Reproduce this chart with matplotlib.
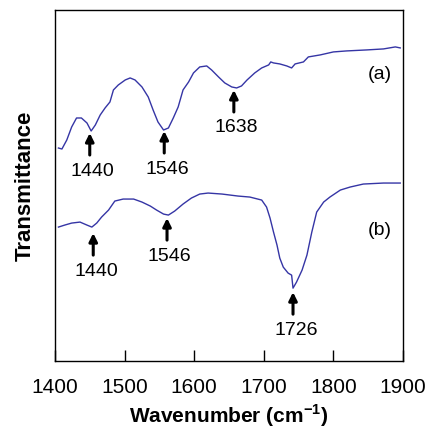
import matplotlib
matplotlib.use("Agg")
from matplotlib import pyplot as plt

plt.rcParams['font.family'] = ['Liberation Sans', 'DejaVu Sans']

# widmo (a)
wn_a = [1405, 1410, 1417, 1424, 1431, 1438, 1446, 1452, 1458, 1465, 1472, 1479,
        1484, 1491, 1501, 1508, 1515, 1525, 1534, 1541, 1548, 1556, 1563, 1570,
        1577, 1584, 1592, 1599, 1608, 1618, 1625, 1635, 1644, 1654, 1661, 1668,
        1676, 1687, 1697, 1707, 1710, 1714, 1723, 1733, 1740, 1745, 1757, 1764,
        1781, 1800, 1819, 1848, 1872, 1889, 1896]
tr_a = [213, 212, 221, 234, 243, 243, 238, 230, 236, 246, 253, 259,
        271, 276, 281, 283, 281, 274, 264, 251, 239, 231, 233, 243,
        254, 271, 279, 288, 294, 295, 291, 284, 278, 274, 273, 275,
        281, 288, 293, 296, 299, 298, 297, 295, 293, 297, 299, 304,
        306, 309, 310, 311, 312, 314, 313]

# widmo (b)
wn_b = [1405, 1414, 1424, 1436, 1446, 1453, 1460, 1467, 1477, 1486, 1498, 1513,
        1525, 1537, 1546, 1556, 1563, 1572, 1584, 1596, 1608, 1620, 1640, 1663,
        1680, 1697, 1704, 1709, 1714, 1719, 1723, 1728, 1735, 1740, 1742, 1747,
        1755, 1762, 1769, 1776, 1786, 1795, 1810, 1824, 1843, 1872, 1896]
tr_b = [134, 136, 138, 139, 136, 134, 138, 144, 151, 160, 162, 162,
        159, 155, 151, 147, 146, 150, 157, 163, 167, 168, 167, 165,
        164, 161, 154, 143, 129, 116, 103, 94, 88, 86, 73, 79,
        91, 106, 129, 149, 159, 164, 171, 174, 177, 178, 178]

# piki: etykieta, pozycja strzalki, wysokosc grotu
peak_labels = ["1440", "1546", "1638", "1440", "1546", "1726"]
peak_x = [1450, 1557, 1657, 1455, 1561, 1742]
peak_tip = [228, 230, 271, 128, 143, 69]

fig = plt.figure(figsize=(4.26, 4.30), dpi=100)
ax = fig.add_axes([0.129, 0.160, 0.817, 0.817])

line_color = '#3535a5'
ax.plot(wn_a, tr_a, color=line_color, lw=1.0)
ax.plot(wn_b, tr_b, color=line_color, lw=1.0)

for lab, x, tip in zip(peak_labels, peak_x, peak_tip):
    ax.annotate("", xy=(x, tip), xytext=(x, tip - 22),
                arrowprops=dict(arrowstyle='-|>', lw=2.2, color='black',
                                mutation_scale=12, shrinkA=0, shrinkB=0))
    ax.text(x + 4, tip - 38, lab, ha='center', va='center', fontsize=14)

ax.text(1867, 286, "(a)", ha='center', va='center', fontsize=14)
ax.text(1867, 131, "(b)", ha='center', va='center', fontsize=14)

ax.set_xlim(1400, 1900)
ax.set_ylim(0, 351)
ax.set_xticks([1400, 1500, 1600, 1700, 1800, 1900])
ax.tick_params(axis='x', direction='in', length=8, width=1, labelsize=15, pad=12)
ax.set_yticks([])
for s in ax.spines.values():
    s.set_linewidth(1.0)

ax.set_xlabel("Wavenumber (cm$^{\\mathregular{-1}}$)", fontsize=15, fontweight='bold', labelpad=4)
ax.set_ylabel("Transmittance", fontsize=16, fontweight='bold', labelpad=14)

fig.savefig("out.png", dpi=100)
